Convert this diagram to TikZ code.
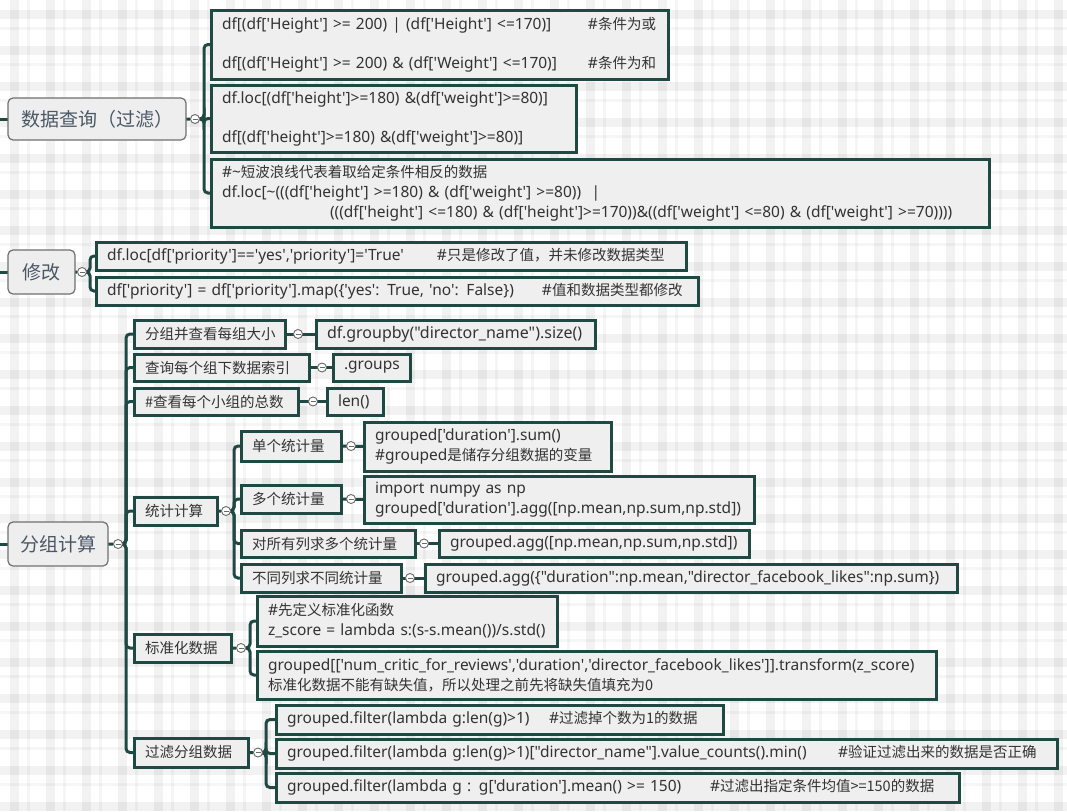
\documentclass[tikz,border=0pt]{standalone}
\usepackage{fontspec}
\setmainfont{Noto Sans}[Ligatures=TeXOff]
\newfontfamily\zhfont{Noto Sans CJK SC}[Ligatures=TeXOff]
\newcommand\zhtxt[1]{{\zhfont\fontsize{14.5}{20}\selectfont #1}}
\pgfdeclarelayer{paper}
\pgfdeclarelayer{wires}
\pgfsetlayers{paper,wires,main}
\definecolor{boxline}{HTML}{1F4A44}
\definecolor{boxfill}{HTML}{EFEFEF}
\definecolor{rootline}{HTML}{707070}
\definecolor{rootfill}{HTML}{EEEEEE}
\definecolor{roottxt}{HTML}{4A5866}
\definecolor{txt}{HTML}{333333}
\definecolor{mkline}{HTML}{6A6A6A}
\tikzset{
  cbox/.style={draw=boxline, line width=3pt, fill=boxfill, anchor=north west, outer sep=0pt,
    inner xsep=11pt, inner ysep=0pt, align=left, font=\fontsize{15.5}{20}\selectfont, text=txt},
  zbox/.style={cbox, font=\zhfont\fontsize{14.5}{20}\selectfont},
  rbox/.style={draw=rootline, line width=1.2pt, rounded corners=5pt, fill=rootfill, anchor=north west,
    outer sep=0pt, inner sep=0pt, align=center, font=\zhfont\fontsize{19}{22}\selectfont, text=roottxt},
  collapse/.style={circle, draw=mkline, line width=0.9pt, fill=white, minimum size=9pt, inner sep=0pt,
    path picture={\draw[mkline, line width=0.9pt] ([xshift=-2.5pt]path picture bounding box.center) -- ([xshift=2.5pt]path picture bounding box.center);}},
  conn/.style={draw=boxline, line width=3pt, rounded corners=4pt},
}
\begin{document}
\begin{tikzpicture}[x=1pt,y=-1pt]
\useasboundingbox (0,0) rectangle (1067,811);
\begin{pgfonlayer}{paper}
  \fill[white] (0,0) rectangle (1067,811);
  \foreach \x in {0,36,...,1080} {
    \fill[black,opacity=0.05] (\x+10,0) rectangle (\x+19,811);
    \fill[black,opacity=0.035] (\x+27,0) rectangle (\x+30,811);
  }
  \foreach \y in {0,36,...,830} {
    \fill[black,opacity=0.05] (0,\y+10) rectangle (1067,\y+19);
    \fill[black,opacity=0.035] (0,\y+27) rectangle (1067,\y+30);
  }
\end{pgfonlayer}

% ---------- group 1 ----------
\node[rbox, minimum width=178pt, minimum height=42pt] (r1) at (8,98) {数据查询（过滤）};
\node[collapse] (mk1) at (195,119) {};
\coordinate (l1) at (0,119);
\coordinate (t1) at (204,119);
\node[cbox, minimum width=457pt, minimum height=69pt, text width=435pt] (a1) at (211,10)
  {\makebox[366pt][l]{df[(df['Height'] >= 200) | (df['Height'] <=170)]}\#\zhtxt{条件为或}\\[19pt]\makebox[366pt][l]{df[(df['Height'] >= 200) \& (df['Weight'] <=170)]}\#\zhtxt{条件为和}};
\node[cbox, minimum width=365pt, minimum height=67pt, text width=343pt] (a2) at (211,85)
  {df.loc[(df['height']>=180) \&(df['weight']>=80)]\\[19pt]df[(df['height']>=180) \&(df['weight']>=80)]};
\node[cbox, minimum width=778pt, minimum height=68pt, text width=756pt] (a3) at (211,159)
  {\#\textasciitilde\zhtxt{短波浪线代表着取给定条件相反的数据}\\df.loc[\textasciitilde(((df['height'] >=180) \& (df['weight'] >=80))\ \ |\\\hspace*{108pt}(((df['height'] <=180) \& (df['height']>=170))\&((df['weight'] <=80) \& (df['weight'] >=70))))};

% ---------- group 2 ----------
\node[rbox, minimum width=67pt, minimum height=44pt] (r2) at (8,250) {修改};
\node[collapse] (mk2) at (82,272) {};
\coordinate (l2) at (0,272);
\coordinate (t2) at (90,272);
\node[cbox, minimum width=590pt, minimum height=28pt, text width=568pt] (b1) at (96,242)
  {\makebox[330pt][l]{df.loc[df['priority']=='yes','priority']='True'}\#\zhtxt{只是修改了值，并未修改数据类型}};
\node[cbox, minimum width=602pt, minimum height=28pt, text width=580pt] (b2) at (96,277)
  {\makebox[435pt][l]{df['priority'] = df['priority'].map(\{'yes': True, 'no': False\})}\#\zhtxt{值和数据类型都修改}};

% ---------- group 3 ----------
\node[rbox, minimum width=100pt, minimum height=44pt] (r3) at (8,522) {分组计算};
\node[collapse] (mk3) at (118,544) {};
\coordinate (l3) at (0,544);
\coordinate (t3) at (126,544);

\node[zbox, minimum width=151pt, minimum height=28pt, text width=129pt] (c1) at (134,320) {分组并查看每组大小};
\node[collapse] (mkc1) at (298,334) {};
\node[cbox, minimum width=279pt, minimum height=28pt, text width=257pt, font=\fontsize{16}{20}\selectfont] (d1) at (316,320) {df.groupby("director\_name").size()};

\node[zbox, minimum width=175pt, minimum height=27pt, text width=153pt] (c2) at (134,354) {查询每个组下数据索引};
\node[collapse] (mkc2) at (322,367.5) {};
\node[cbox, minimum width=77pt, minimum height=27pt, text width=55pt] (d2) at (333,354) {.groups};

\node[zbox, minimum width=164pt, minimum height=27pt, text width=142pt] (c3) at (134,388) {\#查看每个小组的总数};
\node[collapse] (mkc3) at (313,401.5) {};
\node[cbox, minimum width=56pt, minimum height=27pt, text width=34pt] (d3) at (327,388) {len()};

\node[zbox, minimum width=83pt, minimum height=28pt, text width=61pt] (c4) at (134,497) {统计计算};
\node[collapse] (mkc4) at (226,511) {};
\coordinate (t4) at (234,511);

\node[zbox, minimum width=100pt, minimum height=30pt, text width=78pt] (e1) at (241,431) {单个统计量};
\node[collapse] (mke1) at (351,446) {};
\node[cbox, minimum width=247pt, minimum height=49pt, text width=225pt] (f1) at (364,422)
  {grouped['duration'].sum()\\\#grouped\zhtxt{是储存分组数据的变量}};

\node[zbox, minimum width=100pt, minimum height=28pt, text width=78pt] (e2) at (241,485) {多个统计量};
\node[collapse] (mke2) at (351,499) {};
\node[cbox, minimum width=390pt, minimum height=47pt, text width=368pt] (f2) at (364,476)
  {import numpy as np\\grouped['duration'].agg([np.mean,np.sum,np.std])};

\node[zbox, minimum width=174pt, minimum height=27pt, text width=152pt] (e3) at (241,530) {对所有列求多个统计量};
\node[collapse] (mke3) at (424,543.5) {};
\node[cbox, minimum width=310pt, minimum height=27pt, text width=288pt] (f3) at (439,530)
  {grouped.agg([np.mean,np.sum,np.std])};

\node[zbox, minimum width=160pt, minimum height=28pt, text width=138pt] (e4) at (241,564) {不同列求不同统计量};
\node[collapse] (mke4) at (410,578) {};
\node[cbox, minimum width=532pt, minimum height=28pt, text width=510pt] (f4) at (425,564)
  {grouped.agg(\{"duration":np.mean,"director\_facebook\_likes":np.sum\})};

\node[zbox, minimum width=97pt, minimum height=28pt, text width=75pt] (c5) at (134,634) {标准化数据};
\node[collapse] (mkc5) at (241,648) {};
\coordinate (t5) at (250,648);
\node[cbox, minimum width=300pt, minimum height=50pt, text width=278pt] (g1) at (257,596)
  {\#\zhtxt{先定义标准化函数}\\z\_score = lambda s:(s-s.mean())/s.std()};
\node[cbox, minimum width=679pt, minimum height=48pt, text width=657pt] (g2) at (257,651)
  {grouped[['num\_critic\_for\_reviews','duration','director\_facebook\_likes']].transform(z\_score)\\\zhtxt{标准化数据不能有缺失值，所以处理之前先将缺失值填充为0}};

\node[zbox, minimum width=114pt, minimum height=29pt, text width=92pt] (c6) at (134,738) {过滤分组数据};
\node[collapse] (mkc6) at (258,752.5) {};
\coordinate (t6) at (266,752.5);
\node[cbox, minimum width=447pt, minimum height=29pt, text width=425pt] (h1) at (276,705)
  {\makebox[262pt][l]{grouped.filter(lambda g:len(g)>1)}\#\zhtxt{过滤掉个数为1的数据}};
\node[cbox, minimum width=781pt, minimum height=29pt, text width=759pt] (h2) at (276,739)
  {\makebox[551pt][l]{grouped.filter(lambda g:len(g)>1)["director\_name"].value\_counts().min()}\#\zhtxt{验证过滤出来的数据是否正确}};
\node[cbox, minimum width=683pt, minimum height=29pt, text width=661pt] (h3) at (276,773)
  {\makebox[423pt][l]{grouped.filter(lambda g : g['duration'].mean() >= 150)}\#\zhtxt{过滤出指定条件均值>=150的数据}};

% ---------- connectors ----------
\begin{pgfonlayer}{wires}
  \draw[conn] (l1) -- (r1.west);
  \draw[conn] (r1.east) -- (mk1) -- (t1) |- (a1.west);
  \draw[conn] (mk1) -- (t1) |- (a2.west);
  \draw[conn] (mk1) -- (t1) |- (a3.west);

  \draw[conn] (l2) -- (r2.west);
  \draw[conn] (r2.east) -- (mk2) -- (t2) |- (b1.west);
  \draw[conn] (mk2) -- (t2) |- (b2.west);

  \draw[conn] (l3) -- (r3.west);
  \draw[conn] (r3.east) -- (mk3) -- (t3) |- (c1.west);
  \draw[conn] (mk3) -- (t3) |- (c2.west);
  \draw[conn] (mk3) -- (t3) |- (c3.west);
  \draw[conn] (mk3) -- (t3) |- (c4.west);
  \draw[conn] (mk3) -- (t3) |- (c5.west);
  \draw[conn] (mk3) -- (t3) |- (c6.west);

  \draw[conn] (c1.east) -- (d1.west);
  \draw[conn] (c2.east) -- (d2.west);
  \draw[conn] (c3.east) -- (d3.west);

  \draw[conn] (c4.east) -- (mkc4) -- (t4) |- (e1.west);
  \draw[conn] (mkc4) -- (t4) |- (e2.west);
  \draw[conn] (mkc4) -- (t4) |- (e3.west);
  \draw[conn] (mkc4) -- (t4) |- (e4.west);
  \draw[conn] (e1.east) -- (f1.west);
  \draw[conn] (e2.east) -- (f2.west);
  \draw[conn] (e3.east) -- (f3.west);
  \draw[conn] (e4.east) -- (f4.west);

  \draw[conn] (c5.east) -- (mkc5) -- (t5) |- (g1.west);
  \draw[conn] (mkc5) -- (t5) |- (g2.west);

  \draw[conn] (c6.east) -- (mkc6) -- (t6) |- (h1.west);
  \draw[conn] (mkc6) -- (t6) |- (h2.west);
  \draw[conn] (mkc6) -- (t6) |- (h3.west);
\end{pgfonlayer}
\end{tikzpicture}
\end{document}
